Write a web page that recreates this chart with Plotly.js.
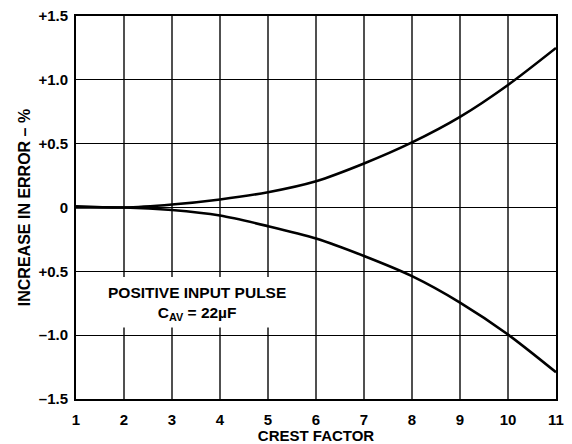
<!DOCTYPE html>
<html>
<head>
<meta charset="utf-8">
<script src="https://cdn.plot.ly/plotly-3.0.1.min.js"></script>
<style>html,body{margin:0;padding:0;background:#fff;}#chart{width:572px;height:444px;}</style>
</head>
<body>
<div id="chart"></div>
<script>
var crestFactor = [1, 2, 3, 4, 5, 6, 7, 8, 9, 10, 11];
var upperError = [0.01, 0.0, 0.023, 0.063, 0.12, 0.206, 0.345, 0.51, 0.71, 0.96, 1.25];
var lowerError = [0.0, 0.0, -0.02, -0.063, -0.146, -0.243, -0.38, -0.538, -0.745, -0.995, -1.29];
var xTickVals = [1, 2, 3, 4, 5, 6, 7, 8, 9, 10, 11];
var xTickText = ['1', '2', '3', '4', '5', '6', '7', '8', '9', '10', '11'];
var yTickVals = [1.5, 1.0, 0.5, 0, -0.5, -1.0, -1.5];
var yTickText = ['+1.5', '+1.0', '+0.5', '0', '+0.5', '\u20131.0', '\u20131.5'];

function b(s) { return '<b>' + s + '</b>'; }
var tickFont = {family: 'Liberation Sans, Arial, sans-serif', size: 15, color: '#000'};
var xTitleFont = {family: 'Liberation Sans, Arial, sans-serif', size: 15, color: '#000'};
var yTitleFont = {family: 'Liberation Sans, Arial, sans-serif', size: 16, color: '#000'};
var noteFont = {family: 'Liberation Sans, Arial, sans-serif', size: 15.5, color: '#000'};

var traces = [
  {x: crestFactor, y: upperError, mode: 'lines', line: {color: '#000', width: 2.6, shape: 'spline', smoothing: 0.8}, hoverinfo: 'skip'},
  {x: crestFactor, y: lowerError, mode: 'lines', line: {color: '#000', width: 2.6, shape: 'spline', smoothing: 0.8}, hoverinfo: 'skip'}
];

var layout = {
  width: 572, height: 444,
  margin: {l: 76, r: 16, t: 16, b: 45},
  paper_bgcolor: '#fff', plot_bgcolor: '#fff',
  showlegend: false,
  font: tickFont,
  xaxis: {
    range: [1, 11], tickvals: xTickVals, ticktext: xTickText.map(b),
    showgrid: true, gridcolor: '#505050', gridwidth: 1.6,
    zeroline: false, showline: true, mirror: true, linecolor: '#000', linewidth: 2,
    ticks: '', ticklen: 0, tickfont: tickFont, ticklabelstandoff: 6,
    title: {text: b('CREST FACTOR'), font: xTitleFont, standoff: 2}
  },
  yaxis: {
    range: [-1.5, 1.5], tickvals: yTickVals, ticktext: yTickText.map(b),
    showgrid: true, gridcolor: '#000', gridwidth: 1,
    zeroline: false, showline: true, mirror: true, linecolor: '#000', linewidth: 2,
    ticks: '', ticklen: 0, tickfont: tickFont, ticklabelstandoff: 3,
    title: {text: b('INCREASE IN ERROR \u2013 %'), font: yTitleFont, standoff: 4}
  },
  shapes: [
    {type: 'rect', xref: 'x', yref: 'y', x0: 1.05, x1: 5.6, y0: -0.94, y1: -0.545,
     fillcolor: '#fff', line: {width: 0}, layer: 'between'}
  ],
  annotations: [
    {xref: 'x', yref: 'y', x: 3.52, y: -0.755, showarrow: false,
     text: b('POSITIVE INPUT PULSE<br>C<sub>AV</sub> = 22\u00b5F'), align: 'center', font: noteFont}
  ]
};

Plotly.newPlot('chart', traces, layout, {staticPlot: true, displayModeBar: false});
</script>
</body>
</html>
